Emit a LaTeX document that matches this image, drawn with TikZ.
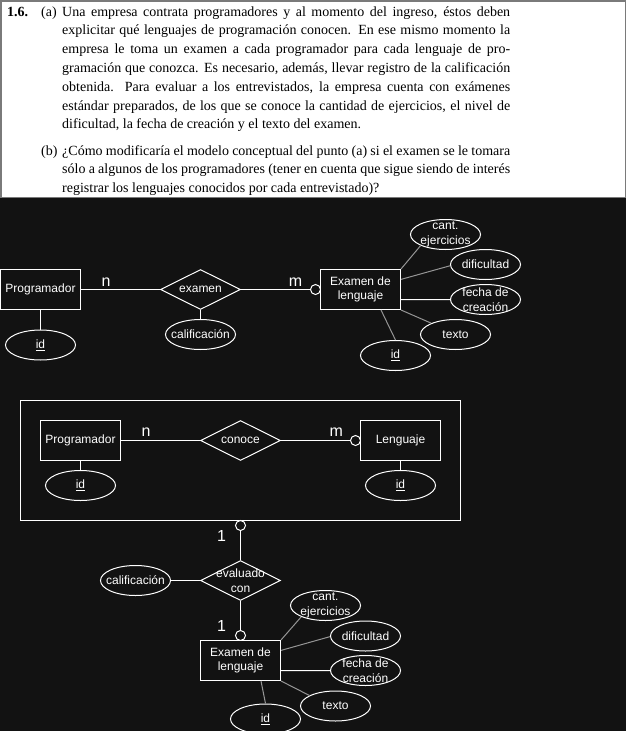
\documentclass[tikz,border=0pt]{standalone}
\usepackage{fontspec}
\setmainfont{Liberation Serif}
\newfontfamily\diagfont{Liberation Sans}
\usetikzlibrary{shapes.geometric}
\definecolor{bgc}{HTML}{121212}
\definecolor{lnc}{HTML}{959595}
\definecolor{brd}{HTML}{7A7A7A}
\newcommand\jline[1]{\hbox to 448pt{#1}}
\begin{document}
\begin{tikzpicture}[x=1pt,y=-1pt,
  lbl/.style={text=white, font=\diagfont\fontsize{12}{14.5}\selectfont, align=center, inner sep=0},
  ent/.style={draw=white, fill=bgc, minimum width=80pt, minimum height=40pt, inner sep=0, line width=1pt},
  rel/.style={diamond, draw=white, fill=bgc, minimum width=80pt, minimum height=40pt, inner sep=0, line width=1pt},
  attr/.style={ellipse, draw=white, fill=bgc, minimum width=70pt, minimum height=30pt, inner sep=0, line width=1pt},
  opt/.style={circle, draw=white, fill=bgc, minimum size=10pt, inner sep=0, line width=1pt},
  card/.style={text=white, font=\diagfont\fontsize{16}{16}\selectfont, inner sep=0, anchor=base},
  wl/.style={draw=white, line width=1pt},
  gl/.style={draw=lnc, line width=1pt},
  ptxt/.style={anchor=base west, inner sep=0, font=\fontsize{14}{18.8}\selectfont},
]
\useasboundingbox (0,0) rectangle (626,731);
\fill[bgc] (0,0) rectangle (626,731);
\filldraw[fill=white, draw=brd, line width=1.5pt] (0.75,0.75) rectangle (625.25,197.25);

% ---------- problem statement ----------
\node[ptxt, font=\bfseries\fontsize{14}{18.8}\selectfont] (num) at (7,16) {1.6.};
\node[ptxt] (la) at (41,16) {(a)};
\node[ptxt] (ta) at (62,16) {\parbox[t]{448pt}{%
\jline{Una empresa contrata programadores y al momento del ingreso, éstos deben}
\jline{explicitar qué lenguajes de programación conocen.  En ese mismo momento la}
\jline{empresa le toma un examen a cada programador para cada lenguaje de pro-}
\jline{gramación que conozca.  Es necesario, además, llevar registro de la calificación}
\jline{obtenida.  Para evaluar a los entrevistados, la empresa cuenta con exámenes}
\jline{estándar preparados, de los que se conoce la cantidad de ejercicios, el nivel de}
\hbox{dificultad, la fecha de creación y el texto del examen.}}};
\node[ptxt] (lb) at (41,155) {(b)};
\node[ptxt] (tb) at (62,155) {\parbox[t]{448pt}{%
\jline{¿Cómo modificaría el modelo conceptual del punto (a) si el examen se le tomara}
\jline{sólo a algunos de los programadores (tener en cuenta que sigue siendo de interés}
\hbox{registrar los lenguajes conocidos por cada entrevistado)?}}};

% ---------- diagram 1 ----------
\node[ent, label={[lbl]center:Programador}] (p1) at (40.5,289.5) {};
\node[attr, label={[lbl]center:\underline{id}}] (p1id) at (40.5,345) {};
\node[rel, label={[lbl]center:examen}] (r1) at (200.5,289.5) {};
\node[attr, label={[lbl]center:calificación}] (cal1) at (200.5,334.5) {};
\node[opt] (o1) at (315.5,289.5) {};
\node[ent, label={[lbl]center:Examen de\\lenguaje}] (e1) at (360.5,289.5) {};
\node[attr, label={[lbl]center:cant.\\ejercicios}] (cant1) at (445.5,234.5) {};
\node[attr, label={[lbl]center:dificultad}] (dif1) at (485.5,264.5) {};
\node[attr, label={[lbl]center:fecha de\\creación}] (fec1) at (485.5,299.5) {};
\node[attr, label={[lbl]center:texto}] (tex1) at (455.5,334.5) {};
\node[attr, label={[lbl]center:\underline{id}}] (id1) at (395.5,355.5) {};

\draw[wl] (p1) -- (r1);
\draw[wl] (p1) -- (p1id);
\draw[wl] (r1) -- (cal1);
\draw[wl] (r1) -- (o1);
\draw[gl] (e1.north east) -- (cant1.204);
\draw[gl] (e1.14) -- (dif1.182);
\draw[wl] (e1.-14) -- (fec1.west);
\draw[gl] (e1.south east) -- (tex1.155);
\draw[gl] (e1.-45) -- (id1.north);

\node[card] (n1) at (106,286) {n};
\node[card] (m1) at (295.6,286) {m};

% ---------- diagram 2 ----------
\node[draw=white, line width=1pt, minimum width=440pt, minimum height=120pt, inner sep=0] (agg) at (240.5,460.5) {};
\node[ent, label={[lbl]center:Programador}] (p2) at (80.5,440.5) {};
\node[attr, label={[lbl]center:\underline{id}}] (p2id) at (80.5,485.5) {};
\node[rel, label={[lbl]center:conoce}] (r2) at (240.5,440.5) {};
\node[opt] (o2) at (355.5,440.5) {};
\node[ent, label={[lbl]center:Lenguaje}] (l2) at (400.5,440.5) {};
\node[attr, label={[lbl]center:\underline{id}}] (l2id) at (400.5,485.5) {};

\draw[wl] (p2) -- (r2);
\draw[wl] (r2) -- (o2);
\draw[wl] (p2) -- (p2id);
\draw[wl] (l2) -- (l2id);

\node[card] (n2) at (146,436.7) {n};
\node[card] (m2) at (336.2,436.7) {m};

\node[opt] (o3) at (240.5,525.5) {};
\node[rel, label={[lbl]center:evaluado\\con}] (r3) at (240.5,580.5) {};
\node[attr, label={[lbl]center:calificación}] (cal2) at (135.5,580.5) {};
\node[opt] (o4) at (240.5,635.5) {};
\node[ent, label={[lbl]center:Examen de\\lenguaje}] (e2) at (240.5,660.5) {};
\node[attr, label={[lbl]center:cant.\\ejercicios}] (cant2) at (325.5,605.5) {};
\node[attr, label={[lbl]center:dificultad}] (dif2) at (365.5,636) {};
\node[attr, label={[lbl]center:fecha de\\creación}] (fec2) at (365.5,670.5) {};
\node[attr, label={[lbl]center:texto}] (tex2) at (335.5,706) {};
\node[attr, label={[lbl]center:\underline{id}}] (id2) at (265.5,719) {};

\draw[wl] (o3) -- (r3);
\draw[wl] (cal2) -- (r3);
\draw[wl] (r3) -- (o4);
\draw[gl] (e2.north east) -- (cant2.205);
\draw[gl] (e2.14) -- (dif2.181);
\draw[wl] (e2.-14) -- (fec2.west);
\draw[gl] (e2.south east) -- (tex2.158);
\draw[gl] (e2.-45) -- (id2.north);

\node[card] (one1) at (221.5,541.7) {1};
\node[card] (one2) at (221.5,631.7) {1};
\end{tikzpicture}
\end{document}
